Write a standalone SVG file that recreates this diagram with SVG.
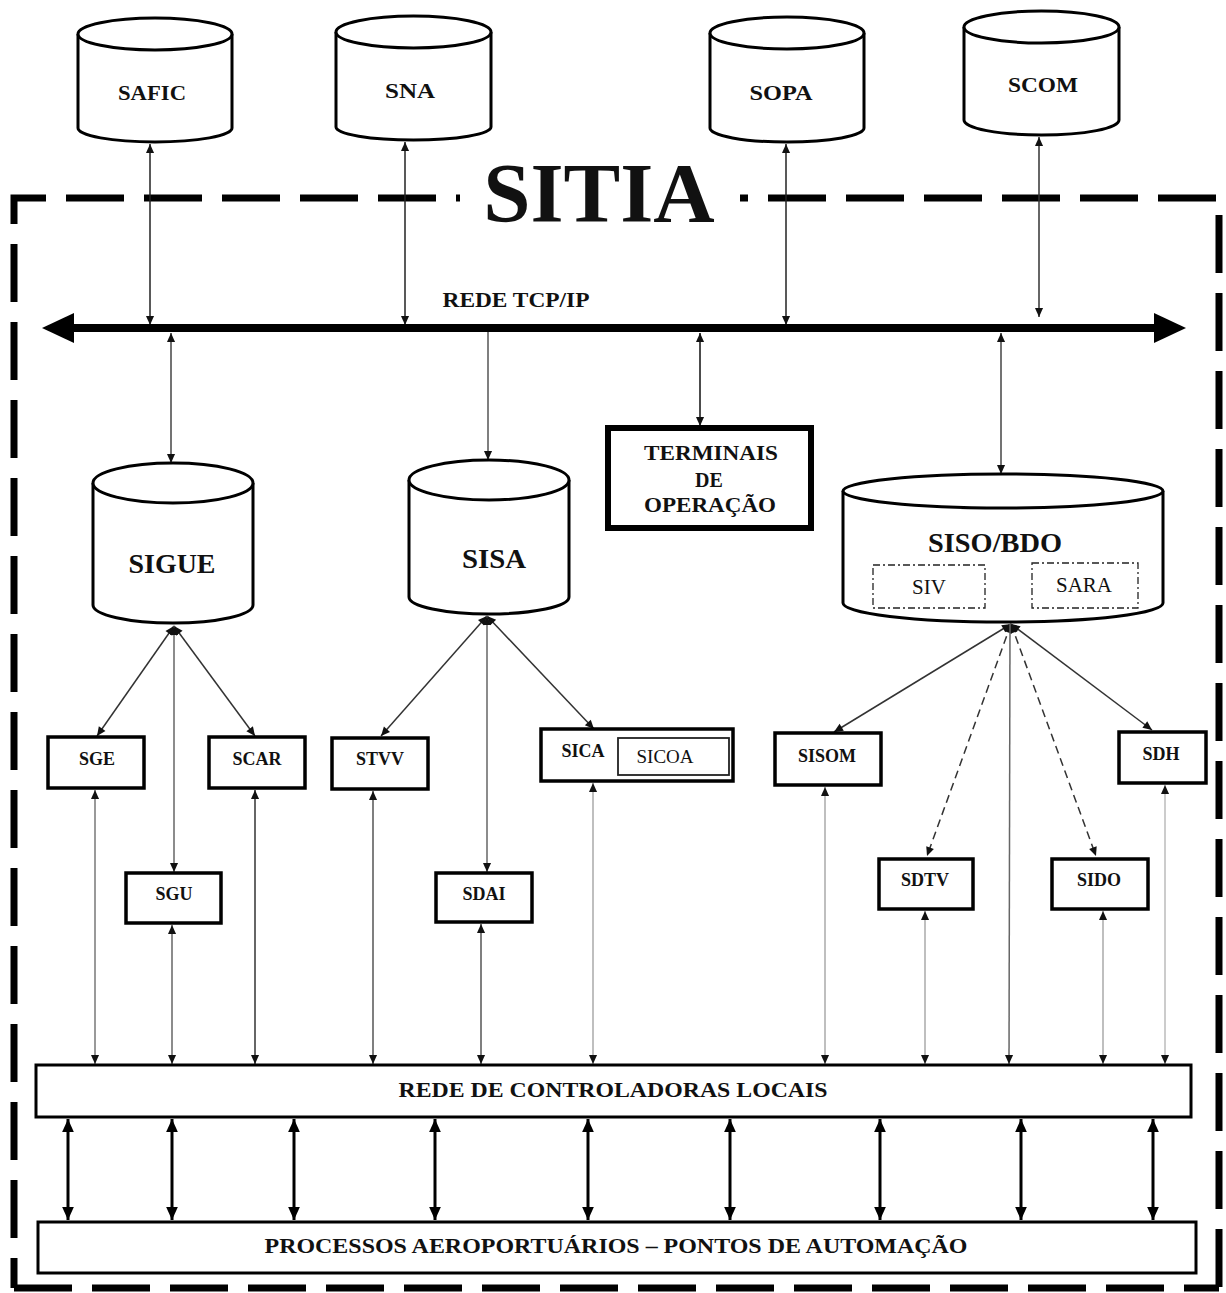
<svg xmlns="http://www.w3.org/2000/svg" width="1226" height="1293" viewBox="0 0 1226 1293">
<defs>
<marker id="ah" viewBox="0 0 10 10" refX="10" refY="5" markerWidth="10" markerHeight="9" markerUnits="userSpaceOnUse" orient="auto-start-reverse"><path d="M0,0.5 L10,5 L0,9.5 z" fill="#111"/></marker>
<marker id="ahb" viewBox="0 0 10 10" refX="10" refY="5" markerWidth="13" markerHeight="13" markerUnits="userSpaceOnUse" orient="auto-start-reverse"><path d="M0,0.5 L10,5 L0,9.5 z" fill="#000"/></marker>
</defs>
<style>
.t{font-family:"Liberation Serif","Times New Roman",serif;font-weight:bold;fill:#111;text-anchor:middle}
.n{font-weight:normal}
.cyl{fill:#fff;stroke:#000;stroke-width:3}
.box{fill:#fff;stroke:#000;stroke-width:3.5}
.bar{fill:#fff;stroke:#000;stroke-width:3}
.frame{fill:none;stroke:#000;stroke-width:7;stroke-dasharray:58 20}
.c{fill:none;stroke-width:1.5}
.bi{marker-start:url(#ah);marker-end:url(#ah)}
.one{marker-end:url(#ah)}
.thick{fill:none;stroke:#000;stroke-width:3;marker-start:url(#ahb);marker-end:url(#ahb)}
.dd{fill:none;stroke:#222;stroke-width:1.3;stroke-dasharray:7 3 2 3}
</style>

<g id="frame">
<path class="frame" d="M460 198 H14 V1288" stroke-dashoffset="54"/>
<path class="frame" d="M14 1288 H1219"/>
<path class="frame" d="M740 198 H1219 V1288" stroke-dashoffset="50"/>
<text class="t" x="599" y="222" font-size="85">SITIA</text>
</g>

<g id="connectors">
<!-- top cylinders to bus -->
<line class="c bi" x1="150" y1="144" x2="150" y2="325" stroke="#222"/>
<line class="c bi" x1="405" y1="142" x2="405" y2="325" stroke="#222"/>
<line class="c bi" x1="786" y1="144" x2="786" y2="325" stroke="#222"/>
<line class="c bi" x1="1039" y1="137" x2="1039" y2="317" stroke="#333"/>
<!-- bus -->
<line x1="70" y1="328" x2="1158" y2="328" stroke="#000" stroke-width="8"/>
<polygon points="42,328 74,313 74,343" fill="#000"/>
<polygon points="1186,328 1154,313 1154,343" fill="#000"/>
<!-- bus to middle -->
<line class="c bi" x1="171" y1="333" x2="171" y2="463" stroke="#444"/>
<line class="c one" x1="488" y1="332" x2="488" y2="460" stroke="#555"/>
<line class="c bi" x1="700" y1="333" x2="700" y2="426" stroke="#111"/>
<line class="c bi" x1="1001" y1="333" x2="1001" y2="474" stroke="#444"/>
<!-- SIGUE fan -->
<line class="c bi" x1="174" y1="626" x2="97" y2="736" stroke="#333"/>
<line class="c bi" x1="174" y1="626" x2="255" y2="736" stroke="#333"/>
<line class="c bi" x1="174" y1="626" x2="174" y2="872" stroke="#666"/>
<!-- SISA fan -->
<line class="c bi" x1="487" y1="616" x2="381" y2="736" stroke="#333"/>
<line class="c bi" x1="487" y1="616" x2="594" y2="729" stroke="#333"/>
<line class="c bi" x1="487" y1="616" x2="487" y2="872" stroke="#666"/>
<!-- SISO fan -->
<line class="c bi" x1="1011" y1="624" x2="834" y2="732" stroke="#333"/>
<line class="c bi" x1="1011" y1="624" x2="1152" y2="730" stroke="#333"/>
<line class="c bi" x1="1011" y1="624" x2="927" y2="856" stroke="#333" stroke-dasharray="8 5"/>
<line class="c bi" x1="1011" y1="624" x2="1096" y2="856" stroke="#333" stroke-dasharray="8 5"/>
<line class="c" x1="1010" y1="624" x2="1009" y2="1064" stroke="#666" marker-end="url(#ah)"/>
<!-- lower verticals to REDE -->
<line class="c bi" x1="95" y1="790" x2="95" y2="1064" stroke="#777"/>
<line class="c bi" x1="172" y1="925" x2="172" y2="1064" stroke="#666"/>
<line class="c bi" x1="255" y1="790" x2="255" y2="1064" stroke="#333"/>
<line class="c bi" x1="373" y1="791" x2="373" y2="1064" stroke="#555"/>
<line class="c bi" x1="481" y1="924" x2="481" y2="1064" stroke="#555"/>
<line class="c bi" x1="593" y1="783" x2="593" y2="1064" stroke="#aaa"/>
<line class="c bi" x1="825" y1="787" x2="825" y2="1064" stroke="#aaa"/>
<line class="c bi" x1="925" y1="911" x2="925" y2="1064" stroke="#aaa"/>
<line class="c bi" x1="1103" y1="911" x2="1103" y2="1064" stroke="#aaa"/>
<line class="c bi" x1="1165" y1="785" x2="1165" y2="1064" stroke="#bbb"/>
<!-- REDE to PROCESSOS -->
<line class="thick" x1="68" y1="1119" x2="68" y2="1220"/>
<line class="thick" x1="172" y1="1119" x2="172" y2="1220"/>
<line class="thick" x1="294" y1="1119" x2="294" y2="1220"/>
<line class="thick" x1="435" y1="1119" x2="435" y2="1220"/>
<line class="thick" x1="588" y1="1119" x2="588" y2="1220"/>
<line class="thick" x1="730" y1="1119" x2="730" y2="1220"/>
<line class="thick" x1="880" y1="1119" x2="880" y2="1220"/>
<line class="thick" x1="1021" y1="1119" x2="1021" y2="1220"/>
<line class="thick" x1="1153" y1="1119" x2="1153" y2="1220"/>
</g>

<g id="safic">
<path class="cyl" d="M78 34 V128 A77 14 0 0 0 232 128 V34"/>
<ellipse class="cyl" cx="155" cy="34" rx="77" ry="16"/>
<text class="t" x="152" y="100" font-size="20" textLength="68" lengthAdjust="spacingAndGlyphs">SAFIC</text>
</g>
<g id="sna">
<path class="cyl" d="M336 32 V127 A77.5 13 0 0 0 491 127 V32"/>
<ellipse class="cyl" cx="413.5" cy="32" rx="77.5" ry="16"/>
<text class="t" x="410" y="98" font-size="20" textLength="50" lengthAdjust="spacingAndGlyphs">SNA</text>
</g>
<g id="sopa">
<path class="cyl" d="M710 33 V128 A77 14 0 0 0 864 128 V33"/>
<ellipse class="cyl" cx="787" cy="33" rx="77" ry="16"/>
<text class="t" x="781" y="100" font-size="20" textLength="63" lengthAdjust="spacingAndGlyphs">SOPA</text>
</g>
<g id="scom">
<path class="cyl" d="M964 27 V120 A77.5 15 0 0 0 1119 120 V27"/>
<ellipse class="cyl" cx="1041.5" cy="27" rx="77.5" ry="16"/>
<text class="t" x="1043" y="92" font-size="20" textLength="70" lengthAdjust="spacingAndGlyphs">SCOM</text>
</g>

<g id="rede-tcpip">
<text class="t" x="516" y="307" font-size="21" textLength="147" lengthAdjust="spacingAndGlyphs">REDE TCP/IP</text>
</g>

<g id="sigue">
<path class="cyl" d="M93 483 V605 A80 18 0 0 0 253 605 V483"/>
<ellipse class="cyl" cx="173" cy="483" rx="80" ry="20"/>
<text class="t" x="172" y="573" font-size="28" textLength="87" lengthAdjust="spacingAndGlyphs">SIGUE</text>
</g>
<g id="sisa">
<path class="cyl" d="M409 480 V597 A80 17 0 0 0 569 597 V480"/>
<ellipse class="cyl" cx="489" cy="480" rx="80" ry="20"/>
<text class="t" x="494" y="568" font-size="28" textLength="64" lengthAdjust="spacingAndGlyphs">SISA</text>
</g>
<g id="terminais">
<rect x="608" y="428" width="203" height="100" fill="#fff" stroke="#000" stroke-width="6"/>
<text class="t" x="711" y="460" font-size="20" textLength="134" lengthAdjust="spacingAndGlyphs">TERMINAIS</text>
<text class="t" x="709" y="487" font-size="20">DE</text>
<text class="t" x="710" y="512" font-size="20" textLength="132" lengthAdjust="spacingAndGlyphs">OPERAÇÃO</text>
</g>
<g id="siso-bdo">
<path class="cyl" d="M843 491 V603 A160 19 0 0 0 1163 603 V491"/>
<ellipse class="cyl" cx="1003" cy="491" rx="160" ry="17"/>
<text class="t" x="995" y="552" font-size="28" textLength="134" lengthAdjust="spacingAndGlyphs">SISO/BDO</text>
<g id="siv">
<rect class="dd" x="873" y="565" width="112" height="43"/>
<text class="t n" x="929" y="594" font-size="21">SIV</text>
</g>
<g id="sara">
<rect class="dd" x="1032" y="563" width="106" height="45"/>
<text class="t n" x="1084" y="592" font-size="21">SARA</text>
</g>
</g>

<g id="sge">
<rect class="box" x="48" y="737" width="96" height="51"/>
<text class="t" x="97" y="765" font-size="18">SGE</text>
</g>
<g id="scar">
<rect class="box" x="209" y="737" width="96" height="51"/>
<text class="t" x="257" y="765" font-size="18">SCAR</text>
</g>
<g id="stvv">
<rect class="box" x="332" y="738" width="96" height="51"/>
<text class="t" x="380" y="765" font-size="18">STVV</text>
</g>
<g id="sica">
<rect class="box" x="541" y="729" width="192" height="52"/>
<text class="t" x="583" y="757" font-size="18">SICA</text>
<g id="sicoa">
<rect x="618" y="738" width="111" height="37" fill="#fff" stroke="#222" stroke-width="1.8"/>
<text class="t n" x="665" y="763" font-size="19">SICOA</text>
</g>
</g>
<g id="sisom">
<rect class="box" x="775" y="733" width="106" height="52"/>
<text class="t" x="827" y="762" font-size="18">SISOM</text>
</g>
<g id="sdh">
<rect class="box" x="1119" y="732" width="87" height="51"/>
<text class="t" x="1161" y="760" font-size="18">SDH</text>
</g>
<g id="sgu">
<rect class="box" x="126" y="873" width="95" height="50"/>
<text class="t" x="174" y="900" font-size="18">SGU</text>
</g>
<g id="sdai">
<rect class="box" x="436" y="873" width="96" height="49"/>
<text class="t" x="484" y="900" font-size="18">SDAI</text>
</g>
<g id="sdtv">
<rect class="box" x="879" y="859" width="94" height="50"/>
<text class="t" x="925" y="886" font-size="18">SDTV</text>
</g>
<g id="sido">
<rect class="box" x="1052" y="859" width="96" height="50"/>
<text class="t" x="1099" y="886" font-size="18">SIDO</text>
</g>

<g id="rede-controladoras">
<rect class="bar" x="36" y="1065" width="1155" height="52"/>
<text class="t" x="613" y="1097" font-size="21" textLength="429" lengthAdjust="spacingAndGlyphs">REDE DE CONTROLADORAS LOCAIS</text>
</g>
<g id="processos">
<rect class="bar" x="38" y="1222" width="1158" height="51"/>
<text class="t" x="616" y="1253" font-size="21" textLength="703" lengthAdjust="spacingAndGlyphs">PROCESSOS AEROPORTUÁRIOS – PONTOS DE AUTOMAÇÃO</text>
</g>
</svg>
